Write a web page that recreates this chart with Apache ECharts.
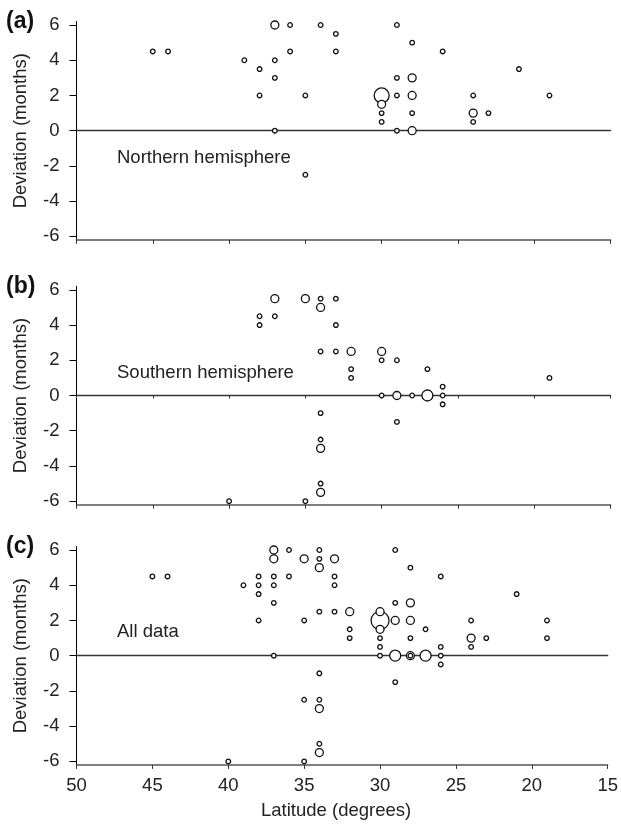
<!DOCTYPE html>
<html>
<head>
<meta charset="utf-8">
<script src="https://cdn.jsdelivr.net/npm/echarts@6.0.0/dist/echarts.min.js"></script>
<style>
  html, body { margin: 0; padding: 0; background: #fff; }
  #chart { width: 621px; height: 828px; }
</style>
</head>
<body>
<div id="chart"></div>
<script>
// Each record: [latitude (degrees), deviation (months), number of records at that spot]
const northern = [
  [45, 4.5, 1], [44, 4.5, 1], [39, 4, 1], [38, 3.5, 1], [38, 2, 1],
  [37, 6, 2], [37, 4, 1], [37, 3, 1], [37, 0, 1], [36, 6, 1], [36, 4.5, 1],
  [35, 2, 1], [35, -2.5, 1], [34, 6, 1], [33, 5.5, 1], [33, 4.5, 1],
  [30, 2, 4], [30, 1.5, 2], [30, 1, 1], [30, 0.5, 1],
  [29, 6, 1], [29, 3, 1], [29, 2, 1], [29, 0, 1],
  [28, 5, 1], [28, 3, 2], [28, 2, 2], [28, 1, 1], [28, 0, 2],
  [26, 4.5, 1], [24, 2, 1], [24, 1, 2], [24, 0.5, 1], [23, 1, 1],
  [21, 3.5, 1], [19, 2, 1]
];

const southern = [
  [40, -6, 1], [38, 4.5, 1], [38, 4, 1], [37, 5.5, 2], [37, 4.5, 1],
  [35, 5.5, 2], [35, -6, 1],
  [34, 5.5, 1], [34, 5, 2], [34, 2.5, 1], [34, -1, 1], [34, -2.5, 1],
  [34, -3, 2], [34, -5, 1], [34, -5.5, 2],
  [33, 5.5, 1], [33, 4, 1], [33, 2.5, 1],
  [32, 2.5, 2], [32, 1.5, 1], [32, 1, 1],
  [30, 2.5, 2], [30, 2, 1], [30, 0, 1],
  [29, 2, 1], [29, 0, 2], [29, -1.5, 1], [28, 0, 1],
  [27, 1.5, 1], [27, 0, 3], [26, 0.5, 1], [26, 0, 1], [26, -0.5, 1],
  [19, 1, 1]
];

const allData = [
  [45, 4.5, 1], [44, 4.5, 1], [40, -6, 1], [39, 4, 1],
  [38, 4.5, 1], [38, 4, 1], [38, 3.5, 1], [38, 2, 1],
  [37, 6, 2], [37, 5.5, 2], [37, 4.5, 1], [37, 4, 1], [37, 3, 1], [37, 0, 1],
  [36, 6, 1], [36, 4.5, 1],
  [35, 5.5, 2], [35, 2, 1], [35, -2.5, 1], [35, -6, 1],
  [34, 6, 1], [34, 5.5, 1], [34, 5, 2], [34, 2.5, 1], [34, -1, 1],
  [34, -2.5, 1], [34, -3, 2], [34, -5, 1], [34, -5.5, 2],
  [33, 5.5, 2], [33, 4.5, 1], [33, 4, 1], [33, 2.5, 1],
  [32, 2.5, 2], [32, 1.5, 1], [32, 1, 1],
  [30, 2.5, 2], [30, 2, 5], [30, 1.5, 2], [30, 1, 1], [30, 0.5, 1], [30, 0, 1],
  [29, 6, 1], [29, 3, 1], [29, 2, 2], [29, 0, 3], [29, -1.5, 1],
  [28, 5, 1], [28, 3, 2], [28, 2, 2], [28, 1, 1], [28, 0, 2], [28, 0, 1],
  [27, 1.5, 1], [27, 0, 3],
  [26, 4.5, 1], [26, 0.5, 1], [26, 0, 1], [26, -0.5, 1],
  [24, 2, 1], [24, 1, 2], [24, 0.5, 1], [23, 1, 1], [21, 3.5, 1],
  [19, 2, 1], [19, 1, 1]
];

const panelLetters = ['(a)', '(b)', '(c)'];
const panelNotes = ['Northern hemisphere', 'Southern hemisphere', 'All data'];
const yTickValues = [-6, -4, -2, 0, 2, 4, 6];
const yAxisTitle = 'Deviation (months)';
const xAxisTitle = 'Latitude (degrees)';

// marker diameter (px) by number of records
const markerSize = { 1: 4.6, 2: 8, 3: 11, 4: 15, 5: 18 };

const FONT = "'Liberation Sans', Arial, Helvetica, sans-serif";
const panels = [northern, southern, allData];
const gridTops = [21.5, 286.3, 546.5];
const gridHeight = 218.4;
const gridLeft = 76.5;
const gridWidth = 534;
const letterTops = [10, 275, 535];
const noteTops = [148, 363, 622];

const chart = echarts.init(document.getElementById('chart'), null, { renderer: 'canvas' });

const grid = gridTops.map(t => ({ left: gridLeft, top: t, width: gridWidth, height: gridHeight }));

// bottom axes of every panel
const xMain = panels.map((_, i) => ({
  gridIndex: i, type: 'value', min: 15, max: 50, interval: 5, inverse: true,
  position: 'bottom',
  axisLine: { show: true, onZero: false, lineStyle: { color: '#555', width: 1.5 } },
  axisTick: { show: true, length: 4, lineStyle: { color: '#333', width: 1 } },
  axisLabel: { show: i === 2, margin: 12, fontSize: 18.5, color: '#222', fontFamily: FONT },
  splitLine: { show: false },
  name: i === 2 ? xAxisTitle : '',
  nameLocation: 'middle', nameGap: 37,
  nameTextStyle: { fontSize: 18.5, color: '#222', fontFamily: FONT, padding: [0, 12, 0, 0] }
}));

// reference line through zero deviation
const xZero = panels.map((_, i) => ({
  gridIndex: i, type: 'value', min: 15, max: 50, interval: 5, inverse: true,
  position: 'bottom',
  axisLine: { show: true, onZero: true, lineStyle: { color: '#333', width: 1.3 } },
  axisTick: { show: i === 1, length: 3, lineStyle: { color: '#333', width: 1 } },
  axisLabel: { show: false },
  splitLine: { show: false }
}));

const yAxes = panels.map((_, i) => ({
  gridIndex: i, type: 'value', min: -6.2, max: 6.2,
  axisLine: { show: true, onZero: false, lineStyle: { color: '#000', width: 1 } },
  axisTick: { show: true, length: 7, customValues: yTickValues, lineStyle: { color: '#000', width: 1 } },
  axisLabel: { customValues: yTickValues, margin: 17, fontSize: 18.5, color: '#222', fontFamily: FONT },
  splitLine: { show: false },
  name: yAxisTitle, nameLocation: 'middle', nameGap: 46,
  nameTextStyle: { fontSize: 18.5, color: '#222', fontFamily: FONT }
}));

const series = panels.map((data, i) => ({
  type: 'scatter',
  xAxisIndex: i, yAxisIndex: i,
  // larger rings first so smaller ones stay visible on top
  data: data.slice().sort((p, q) => q[2] - p[2]),
  symbol: 'circle',
  symbolSize: v => markerSize[v[2]],
  itemStyle: { color: '#fff', borderColor: '#111', borderWidth: 1.3, opacity: 1 },
  emphasis: { disabled: true },
  silent: true,
  z: 3
}));

const graphic = [];
panelLetters.forEach((t, i) => {
  graphic.push({ type: 'text', left: 6, top: letterTops[i],
    style: { text: t, font: "bold 23px " + FONT, fill: '#111' } });
});
panelNotes.forEach((t, i) => {
  graphic.push({ type: 'text', left: 117, top: noteTops[i],
    style: { text: t, font: "18.5px " + FONT, fill: '#222' } });
});

chart.setOption({
  animation: false,
  backgroundColor: '#fff',
  grid: grid,
  xAxis: xMain.concat(xZero),
  yAxis: yAxes,
  series: series,
  graphic: graphic
});
</script>
</body>
</html>
